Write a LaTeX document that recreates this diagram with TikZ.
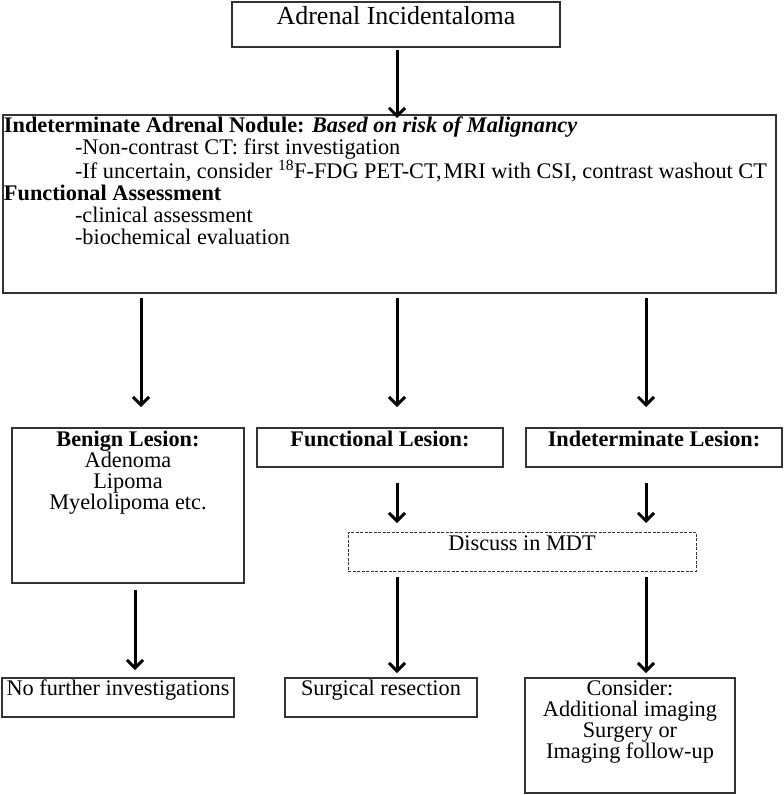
\documentclass[tikz,border=0pt]{standalone}
\usepackage{fontspec}
\setmainfont{Liberation Serif}
\usetikzlibrary{arrows.meta}
\newcommand{\bxc}[4]{\parbox[c][#2][t]{#1}{\centering\rule{0pt}{#3}#4}}
\newcommand{\bxl}[4]{\parbox[c][#2][t]{#1}{\raggedright\rule{0pt}{#3}#4}}
\begin{document}
\begin{tikzpicture}[x=1pt,y=-1pt,
  bx/.style={draw=black!80, line width=1.3pt, inner sep=0pt, outer sep=0pt, anchor=north west},
  dbx/.style={draw=black!80, line width=0.9pt, dash pattern=on 3pt off 1.5pt, inner sep=0pt, outer sep=0pt, anchor=north west},
  body/.style={font=\fontsize{22.3}{21}\selectfont},
  arr/.style={line width=3pt, -{Straight Barb[length=8pt,width=16pt]}}
]
\useasboundingbox (0,0) rectangle (784,795);
\coordinate (cA) at (141,0);
\coordinate (cB) at (397,0);
\coordinate (cC) at (646,0);
\coordinate (cD) at (135,0);

\node[bx, font=\fontsize{26}{30}\selectfont] (top) at (232,2) {\bxc{328pt}{45pt}{22pt}{Adrenal Incidentaloma}};

\node[bx, font=\fontsize{22.3}{22}\selectfont] (big) at (3,115) {\hspace*{1pt}\bxl{772pt}{178pt}{17.5pt}{%
\textbf{Indeterminate Adrenal Nodule: \textit{Based on risk of Malignancy}}\\
\hspace*{71pt}-Non-contrast CT: first investigation\\
\hspace*{71pt}-If uncertain, consider \textsuperscript{18}F-FDG PET-CT,\hspace{2pt}MRI with CSI, contrast washout CT\\
\textbf{Functional Assessment}\\
\hspace*{71pt}-clinical assessment\\
\hspace*{71pt}-biochemical evaluation}};

\node[bx, body] (benign) at (12,428) {\bxc{232pt}{155pt}{18pt}{\textbf{Benign Lesion:}\\Adenoma\\Lipoma\\Myelolipoma etc.}};
\node[bx, body] (func) at (257,428) {\bxc{246pt}{39pt}{18pt}{\textbf{Functional Lesion:}}};
\node[bx, body] (indet) at (526,428) {\bxc{256pt}{39pt}{18pt}{\textbf{Indeterminate Lesion:}}};
\node[dbx, body] (mdt) at (348,532) {\bxc{348pt}{39pt}{18.5pt}{Discuss in MDT}};
\node[bx, body] (nofur) at (2,678) {\bxc{232pt}{39pt}{17pt}{No further investigations}};
\node[bx, body] (surg) at (285,678) {\bxc{192pt}{39pt}{17pt}{Surgical resection}};
\node[bx, body] (cons) at (525,678) {\bxc{210pt}{115pt}{17pt}{Consider:\\Additional imaging\\Surgery or\\Imaging follow-up}};

\draw[arr, shorten <=3pt, shorten >=-3pt] (top.south -| cB) -- (big.north -| cB);
\draw[arr, shorten <=5pt, shorten >=21pt] (big.south -| cA) -- (benign.north -| cA);
\draw[arr, shorten <=5pt, shorten >=21pt] (big.south -| cB) -- (func.north -| cB);
\draw[arr, shorten <=5pt, shorten >=21pt] (big.south -| cC) -- (indet.north -| cC);
\draw[arr, shorten <=16pt, shorten >=9pt] (func.south -| cB) -- (mdt.north -| cB);
\draw[arr, shorten <=16pt, shorten >=9pt] (indet.south -| cC) -- (mdt.north -| cC);
\draw[arr, shorten <=6pt, shorten >=5pt] (mdt.south -| cB) -- (surg.north -| cB);
\draw[arr, shorten <=6pt, shorten >=5pt] (mdt.south -| cC) -- (cons.north -| cC);
\draw[arr, shorten <=7pt, shorten >=8pt] (benign.south -| cD) -- (nofur.north -| cD);
\end{tikzpicture}
\end{document}
